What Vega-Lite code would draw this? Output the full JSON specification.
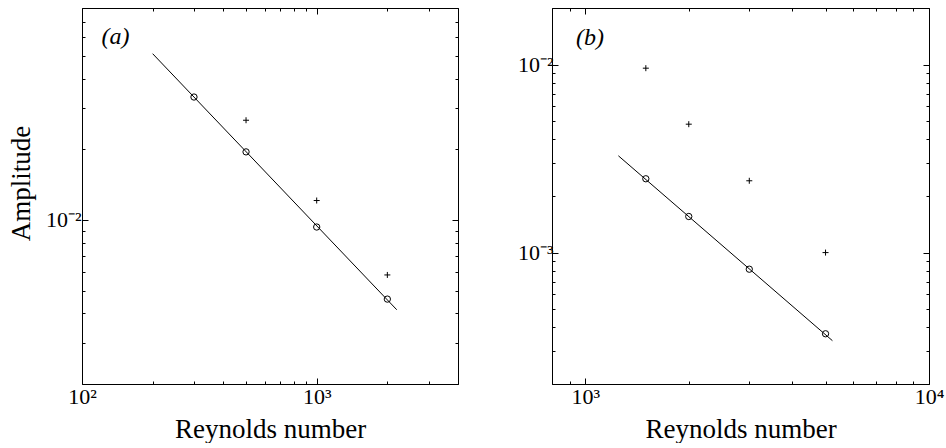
{
  "$schema": "https://vega.github.io/schema/vega-lite/v6.json",
  "autosize": {"type": "pad"},
  "padding": {"left": 6, "top": 7, "right": 0, "bottom": 0},
  "background": "white",
  "spacing": 94,
  "bounds": "flush",
  "config": {
    "font": "Liberation Serif",
    "view": {"stroke": "black", "strokeWidth": 1},
    "axis": {
      "grid": false, "domain": false, "tickColor": "black", "tickWidth": 1,
      "labelColor": "black", "labelFontSize": 22, "labelFont": "Liberation Serif",
      "titleColor": "black", "titleFontSize": 27, "titleFontWeight": "normal", "titleFont": "Liberation Serif",
      "labelFlush": false, "labelOverlap": false
    }
  },
  "datasets": {
    "fitA": [{"re": 200, "amp": 0.0511}, {"re": 2193, "amp": 0.004144}],
    "circA": [{"re": 300, "amp": 0.0334}, {"re": 500, "amp": 0.0195}, {"re": 1000, "amp": 0.00933}, {"re": 2000, "amp": 0.0046}],
    "plusA": [{"re": 500, "amp": 0.0266}, {"re": 1000, "amp": 0.0121}, {"re": 2000, "amp": 0.00583}],
    "labA": [{"re": 121, "amp": 0.056, "t": "(a)"}],
    "fitB": [{"re": 1248, "amp": 0.003273}, {"re": 5236, "amp": 0.00034}],
    "circB": [{"re": 1500, "amp": 0.00247}, {"re": 2000, "amp": 0.001556}, {"re": 3000, "amp": 0.000816}, {"re": 5000, "amp": 0.00037}],
    "plusB": [{"re": 1500, "amp": 0.00957}, {"re": 2000, "amp": 0.00482}, {"re": 3000, "amp": 0.00241}, {"re": 5000, "amp": 0.001}],
    "labB": [{"re": 940, "amp": 0.0127, "t": "(b)"}]
  },
  "hconcat": [
    {
      "width": 376, "height": 376,
      "resolve": {"axis": {"x": "independent", "y": "independent"}},
      "layer": [
        {
          "data": {"name": "fitA"},
          "mark": {"type": "line", "color": "black", "strokeWidth": 1},
          "encoding": {
            "x": {"field": "re", "type": "quantitative",
              "scale": {"type": "log", "domain": [100, 4000], "nice": false},
              "axis": {"orient": "bottom", "title": "Reynolds number", "titlePadding": 9, "labelPadding": 8, "tickSize": -6,
                "values": [100, 1000],
                "labelExpr": "datum.value == 100 ? '10²' : '10³'"}},
            "y": {"field": "amp", "type": "quantitative",
              "scale": {"type": "log", "domain": [0.002, 0.08], "nice": false},
              "axis": {"orient": "left", "title": "Amplitude", "titlePadding": 10, "titleY": 175, "labelPadding": 7, "tickSize": -6,
                "values": [0.01],
                "labelExpr": "'10⁻²'"}}
          }
        },
        {
          "data": {"name": "circA"},
          "mark": {"type": "point", "shape": "circle", "filled": false, "color": "black", "strokeWidth": 1, "size": 40, "opacity": 1},
          "encoding": {
            "x": {"field": "re", "type": "quantitative",
              "scale": {"type": "log", "domain": [100, 4000], "nice": false},
              "axis": {"orient": "top", "title": null, "labels": false, "tickSize": -6, "values": [100, 1000]}},
            "y": {"field": "amp", "type": "quantitative",
              "scale": {"type": "log", "domain": [0.002, 0.08], "nice": false},
              "axis": {"orient": "right", "title": null, "labels": false, "tickSize": -6, "values": [0.01]}}
          }
        },
        {
          "data": {"name": "plusA"},
          "mark": {"type": "point", "shape": "M-1,0H1M0,-1V1", "filled": false, "color": "black", "strokeWidth": 1, "size": 36, "opacity": 1},
          "encoding": {
            "x": {"field": "re", "type": "quantitative", "scale": {"type": "log", "domain": [100, 4000], "nice": false},
              "axis": {"orient": "bottom", "title": null, "labels": false, "tickSize": -3,
                "values": [200, 300, 400, 500, 600, 700, 800, 900, 2000, 3000, 4000]}},
            "y": {"field": "amp", "type": "quantitative", "scale": {"type": "log", "domain": [0.002, 0.08], "nice": false},
              "axis": {"orient": "left", "title": null, "labels": false, "tickSize": -3,
                "values": [0.002, 0.003, 0.004, 0.005, 0.006, 0.007, 0.008, 0.009, 0.02, 0.03, 0.04, 0.05, 0.06, 0.07, 0.08]}}
          }
        },
        {
          "data": {"name": "labA"},
          "mark": {"type": "text", "align": "left", "baseline": "alphabetic", "fontSize": 24, "fontStyle": "italic", "color": "black"},
          "encoding": {
            "x": {"field": "re", "type": "quantitative", "scale": {"type": "log", "domain": [100, 4000], "nice": false},
              "axis": {"orient": "top", "title": null, "labels": false, "tickSize": -3,
                "values": [200, 300, 400, 500, 600, 700, 800, 900, 2000, 3000, 4000]}},
            "y": {"field": "amp", "type": "quantitative", "scale": {"type": "log", "domain": [0.002, 0.08], "nice": false},
              "axis": {"orient": "right", "title": null, "labels": false, "tickSize": -3,
                "values": [0.002, 0.003, 0.004, 0.005, 0.006, 0.007, 0.008, 0.009, 0.02, 0.03, 0.04, 0.05, 0.06, 0.07, 0.08]}},
            "text": {"field": "t"}
          }
        }
      ]
    },
    {
      "width": 377, "height": 376,
      "resolve": {"axis": {"x": "independent", "y": "independent"}},
      "layer": [
        {
          "data": {"name": "fitB"},
          "mark": {"type": "line", "color": "black", "strokeWidth": 1},
          "encoding": {
            "x": {"field": "re", "type": "quantitative",
              "scale": {"type": "log", "domain": [800, 10000], "nice": false},
              "axis": {"orient": "bottom", "title": "Reynolds number", "titlePadding": 9, "labelPadding": 8, "tickSize": -6,
                "values": [1000, 10000],
                "labelExpr": "datum.value == 1000 ? '10³' : '10⁴'"}},
            "y": {"field": "amp", "type": "quantitative",
              "scale": {"type": "log", "domain": [0.0002, 0.02], "nice": false},
              "axis": {"orient": "left", "title": null, "labelPadding": 5, "tickSize": -6,
                "values": [0.001, 0.01],
                "labelExpr": "datum.value == 0.01 ? '10⁻²' : '10⁻³'"}}
          }
        },
        {
          "data": {"name": "circB"},
          "mark": {"type": "point", "shape": "circle", "filled": false, "color": "black", "strokeWidth": 1, "size": 40, "opacity": 1},
          "encoding": {
            "x": {"field": "re", "type": "quantitative",
              "scale": {"type": "log", "domain": [800, 10000], "nice": false},
              "axis": {"orient": "top", "title": null, "labels": false, "tickSize": -6, "values": [1000, 10000]}},
            "y": {"field": "amp", "type": "quantitative",
              "scale": {"type": "log", "domain": [0.0002, 0.02], "nice": false},
              "axis": {"orient": "right", "title": null, "labels": false, "tickSize": -6, "values": [0.001, 0.01]}}
          }
        },
        {
          "data": {"name": "plusB"},
          "mark": {"type": "point", "shape": "M-1,0H1M0,-1V1", "filled": false, "color": "black", "strokeWidth": 1, "size": 36, "opacity": 1},
          "encoding": {
            "x": {"field": "re", "type": "quantitative", "scale": {"type": "log", "domain": [800, 10000], "nice": false},
              "axis": {"orient": "bottom", "title": null, "labels": false, "tickSize": -3,
                "values": [800, 900, 2000, 3000, 4000, 5000, 6000, 7000, 8000, 9000]}},
            "y": {"field": "amp", "type": "quantitative", "scale": {"type": "log", "domain": [0.0002, 0.02], "nice": false},
              "axis": {"orient": "left", "title": null, "labels": false, "tickSize": -3,
                "values": [0.0002, 0.0003, 0.0004, 0.0005, 0.0006, 0.0007, 0.0008, 0.0009, 0.002, 0.003, 0.004, 0.005, 0.006, 0.007, 0.008, 0.009, 0.02]}}
          }
        },
        {
          "data": {"name": "labB"},
          "mark": {"type": "text", "align": "left", "baseline": "alphabetic", "fontSize": 24, "fontStyle": "italic", "color": "black"},
          "encoding": {
            "x": {"field": "re", "type": "quantitative", "scale": {"type": "log", "domain": [800, 10000], "nice": false},
              "axis": {"orient": "top", "title": null, "labels": false, "tickSize": -3,
                "values": [800, 900, 2000, 3000, 4000, 5000, 6000, 7000, 8000, 9000]}},
            "y": {"field": "amp", "type": "quantitative", "scale": {"type": "log", "domain": [0.0002, 0.02], "nice": false},
              "axis": {"orient": "right", "title": null, "labels": false, "tickSize": -3,
                "values": [0.0002, 0.0003, 0.0004, 0.0005, 0.0006, 0.0007, 0.0008, 0.0009, 0.002, 0.003, 0.004, 0.005, 0.006, 0.007, 0.008, 0.009, 0.02]}},
            "text": {"field": "t"}
          }
        }
      ]
    }
  ]
}
